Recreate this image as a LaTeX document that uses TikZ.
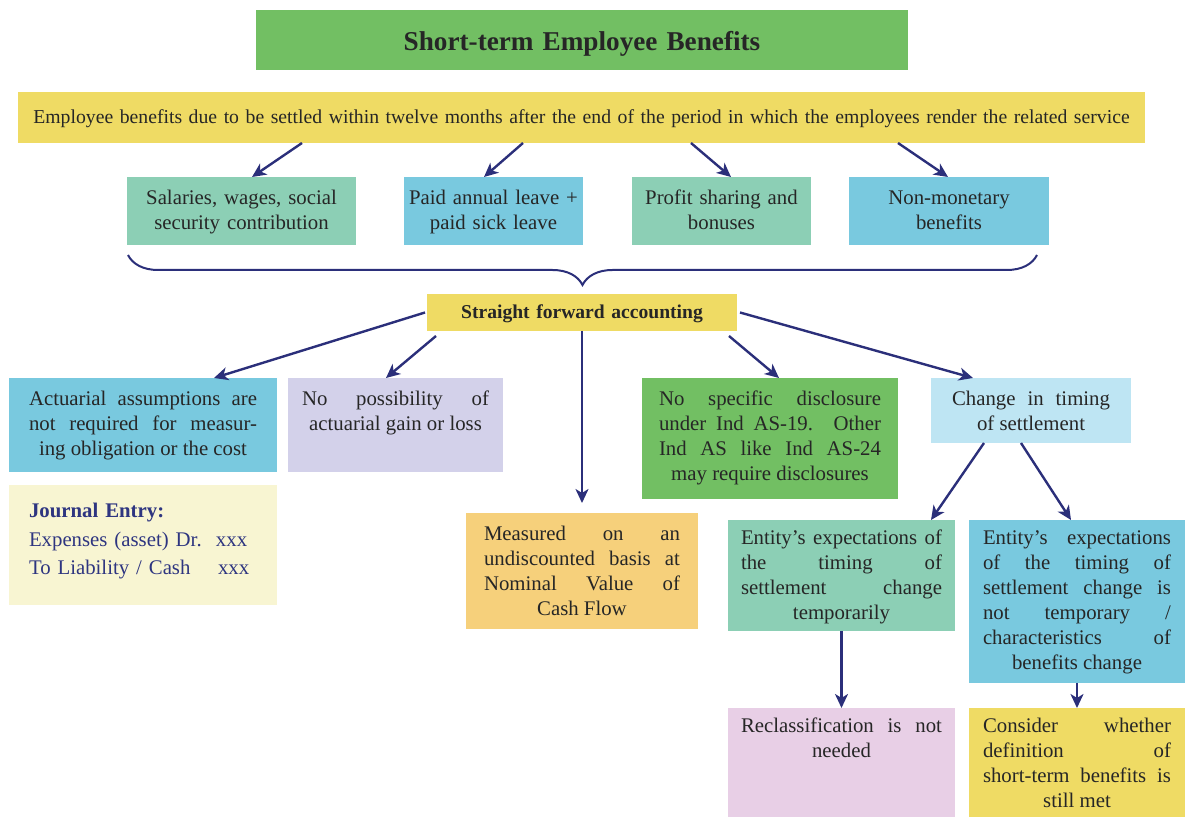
\documentclass[tikz,border=0pt]{standalone}
\usepackage{fontspec}
\setmainfont{Liberation Serif}
\usepackage{xcolor}
\usetikzlibrary{arrows.meta, positioning, calc, decorations.pathreplacing}

\definecolor{leafgreen}{HTML}{72BF63}
\definecolor{sunny}{HTML}{EFDB64}
\definecolor{mint}{HTML}{8CCFB5}
\definecolor{sky}{HTML}{79C9DF}
\definecolor{lilac}{HTML}{D3D1EA}
\definecolor{icy}{HTML}{BEE5F3}
\definecolor{cream}{HTML}{F8F5D2}
\definecolor{apricot}{HTML}{F6D07B}
\definecolor{rose}{HTML}{E8CFE6}
\definecolor{navy}{HTML}{2B2F7A}
\definecolor{ink}{HTML}{262626}
\definecolor{inkblue}{HTML}{2E3580}

\newcommand{\cellfont}{\fontsize{10.4pt}{12.5pt}\selectfont}

\begin{document}
\begin{tikzpicture}[
    x=0.5pt, y=-0.5pt,
    cell/.style={anchor=north west, inner xsep=0pt, inner ysep=0pt, outer sep=0pt, font=\cellfont, text=ink},
    mid/.style={cell, align=center},
    just/.style={cell, align=justify, execute at begin node={\leftskip=0pt plus 1fil\rightskip=0pt plus -1fil\parfillskip=0pt plus 2fil\hyphenpenalty=10000\exhyphenpenalty=10000\tolerance=10000\hbadness=10000}},
    arrow/.style={draw=navy, line width=1.2pt, -{Stealth[length=7pt, width=6.5pt, inset=2pt]}},
    bracket/.style={draw=navy, line width=1pt, decorate, decoration={brace, amplitude=15pt}},
  ]
  \useasboundingbox (0,0) rectangle (1185,817);
  % heading and scope
  \node[mid, fill=leafgreen, font=\fontsize{13.6pt}{16pt}\selectfont\bfseries, text width=326pt, text height=20.5pt, text depth=9.5pt] (title) at (256,10) {Short-term Employee Benefits};
  \node[mid, fill=sunny, font=\fontsize{9.85pt}{12pt}\selectfont, text width=563.5pt, text height=16pt, text depth=9.5pt] (defn) at (18,92) {Employee benefits due to be settled within twelve months after the end of the period in which the employees render the related service};
  % kinds of benefits
  \node[mid, fill=mint, text width=114.5pt, text height=14pt, text depth=20pt] (salary) at (127,177) {Salaries, wages, social\\security contribution};
  \node[mid, fill=sky, text width=89.5pt, text height=14pt, text depth=20pt] (leave) at (404,177) {Paid annual leave +\\paid sick leave};
  \node[mid, fill=mint, text width=89.5pt, text height=14pt, text depth=20pt] (profit) at (632,177) {Profit sharing and\\bonuses};
  \node[mid, fill=sky, text width=100pt, text height=14pt, text depth=20pt] (nonmon) at (849,177) {Non-monetary\\benefits};
  \draw[bracket] ([xshift=-6pt, yshift=-5pt]nonmon.south east) -- ([xshift=0.5pt, yshift=-5pt]salary.south west);
  % accounting
  \node[mid, fill=sunny, font=\fontsize{9.8pt}{12pt}\selectfont\bfseries, text width=155pt, text height=12.5pt, text depth=6pt] (sfa) at (427,294) {Straight forward accounting};
  \node[just, fill=sky, inner xsep=10pt, text width=114pt, text height=14pt, text depth=33pt] (actuarial) at (9,378) {Actuarial assumptions are\linebreak not required for measur-\linebreak ing obligation or the cost};
  \node[just, fill=lilac, inner xsep=7pt, text width=93.5pt, text height=14pt, text depth=33pt] (nogain) at (288,378) {No possibility of\linebreak actuarial gain or loss};
  \node[just, fill=leafgreen, inner xsep=8.5pt, text width=111pt, text height=14pt, text depth=46.5pt] (nodisc) at (642,378) {No specific disclosure\linebreak under Ind AS-19. Other\linebreak Ind AS like Ind AS-24\linebreak may require disclosures};
  \node[just, fill=icy, inner xsep=10.5pt, text width=79pt, text height=14pt, text depth=18.5pt] (timing) at (931,378) {Change in timing\linebreak of settlement};
  \node[cell, align=left, fill=cream, text=inkblue, font=\fontsize{10.4pt}{14.25pt}\selectfont, inner xsep=10pt, text width=114pt, text height=16.5pt, text depth=43.5pt] (journal) at (9,485) {\textbf{Journal Entry:}\\\makebox[93.5pt][l]{Expenses (asset) Dr.}xxx\\\makebox[94.5pt][l]{To Liability / Cash}xxx};
  \node[just, fill=apricot, inner xsep=9pt, text width=98pt, text height=14pt, text depth=44pt] (nominal) at (466,513) {Measured on an\linebreak undiscounted basis at\linebreak Nominal Value of\linebreak Cash Flow};
  % change in timing
  \node[just, fill=mint, inner xsep=6.5pt, text width=100.5pt, text height=12.5pt, text depth=43pt] (temporary) at (728,520) {Entity’s expectations of\linebreak the timing of\linebreak settlement change\linebreak temporarily};
  \node[just, fill=sky, inner xsep=7pt, text width=94pt, text height=12.5pt, text depth=69pt] (lasting) at (969,520) {Entity’s expectations\linebreak of the timing of\linebreak settlement change is\linebreak not temporary /\linebreak characteristics of\linebreak benefits change};
  \node[just, fill=rose, inner xsep=6.5pt, text width=100.5pt, text height=12.5pt, text depth=42pt] (reclass) at (728,708) {Reclassification is not\linebreak needed};
  \node[just, fill=sunny, inner xsep=7pt, text width=94pt, text height=12.5pt, text depth=42pt] (stillmet) at (969,708) {Consider whether\linebreak definition of\linebreak short-term benefits is\linebreak still met};
  % connectors
  \draw[arrow] ([xshift=-139.75pt]defn.south) -- ([xshift=5.25pt]salary.north);
  \draw[arrow] ([xshift=-29.25pt]defn.south) -- ([xshift=-4.75pt]leave.north);
  \draw[arrow] ([xshift=54.75pt]defn.south) -- ([xshift=4.75pt]profit.north);
  \draw[arrow] ([xshift=158.25pt]defn.south) -- ([xshift=-0.5pt]nonmon.north);
  \draw[arrow] ([xshift=-1pt]sfa.west) -- ([xshift=35.5pt]actuarial.north);
  \draw[arrow] ([xshift=4.5pt, yshift=-2.5pt]sfa.south west) -- ([xshift=-4.75pt]nogain.north);
  \draw[arrow] (sfa.south) -- ([yshift=5pt]nominal.north);
  \draw[arrow] ([xshift=-4pt, yshift=-2.5pt]sfa.south east) -- ([xshift=4.5pt]nodisc.north);
  \draw[arrow] ([xshift=1.5pt]sfa.east) -- ([xshift=-29pt]timing.north);
  \draw[arrow] ([xshift=-23.5pt]timing.south) -- ([xshift=-12pt]temporary.north east);
  \draw[arrow] ([xshift=-5pt]timing.south) -- ([xshift=-3pt]lasting.north);
  \draw[arrow] (temporary.south) -- (reclass.north);
  \draw[arrow] (lasting.south) -- (stillmet.north);
\end{tikzpicture}
\end{document}
